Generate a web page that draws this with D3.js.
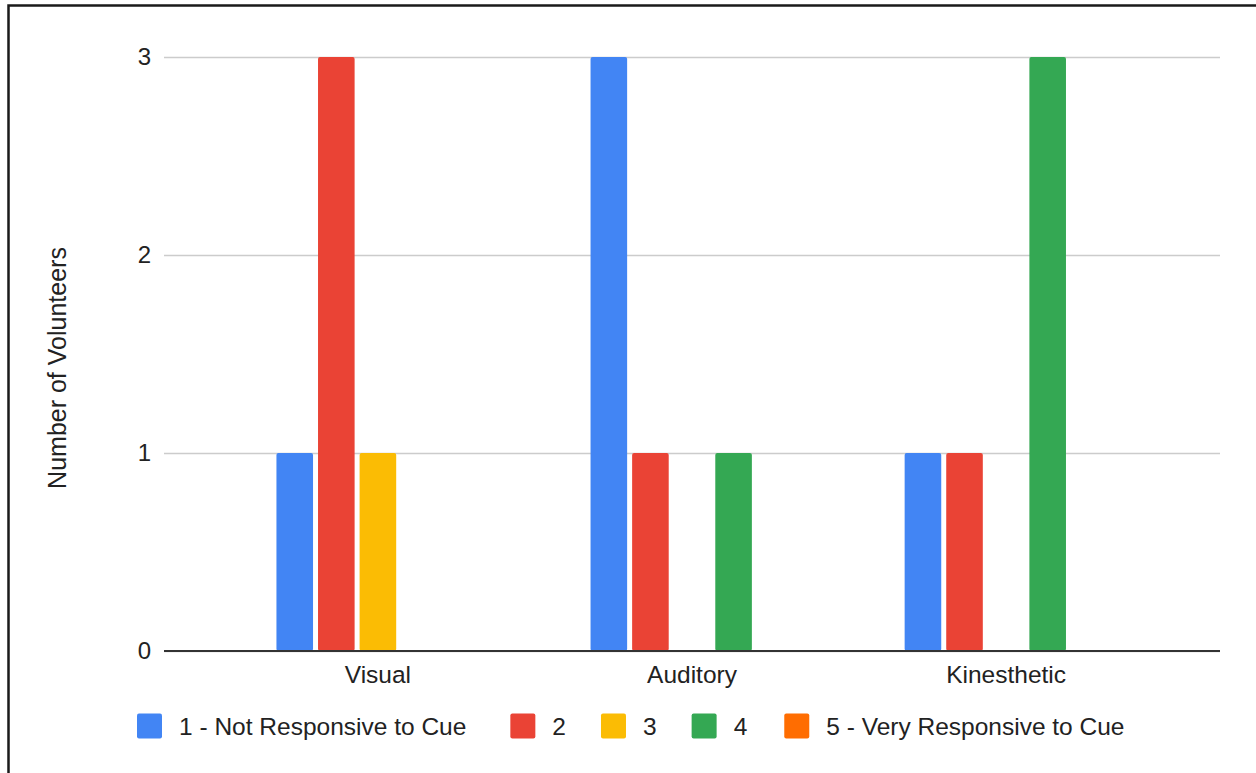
<!DOCTYPE html>
<html>
<head>
<meta charset="utf-8">
<script src="https://cdn.jsdelivr.net/npm/d3@7"></script>
<style>
  body { margin: 0; background: #fff; }
  svg { display: block; font-family: "Liberation Sans", Arial, Helvetica, sans-serif; }
</style>
</head>
<body>
<svg width="1256" height="773"></svg>
<script>
let categories = ["Visual", "Auditory", "Kinesthetic"];
let seriesNames = ["1 - Not Responsive to Cue", "2", "3", "4", "5 - Very Responsive to Cue"];
let seriesColors = ["#4285f4", "#ea4335", "#fbbc04", "#34a853", "#ff6d01"];
// one array per category, values for series 1..5
let visualValues = [1, 3, 1, 0, 0];
let auditoryValues = [3, 1, 0, 1, 0];
let kinestheticValues = [1, 1, 0, 3, 0];
let yTicks = [0, 1, 2, 3];
let yTitle = "Number of Volunteers";

let valuesByCategory = [visualValues, auditoryValues, kinestheticValues];

function render() {
  let svg = d3.select("svg");
  let fontSize = 24.5;

  let plot = { left: 164, right: 1220, top: 57, bottom: 651 };

  // outer frame, only left and top edges fall inside the picture
  svg.append("rect")
    .attr("x", 8.5)
    .attr("y", 5.5)
    .attr("width", 1300)
    .attr("height", 800)
    .attr("fill", "none")
    .attr("stroke", "#1a1a1a")
    .attr("stroke-width", 2.5);

  let x0 = d3.scaleBand()
    .domain(categories)
    .range([plot.left, plot.right])
    .paddingInner(0.354)
    .paddingOuter(0.358);
  let x1 = d3.scaleBand()
    .domain(seriesNames)
    .range([0, x0.bandwidth()])
    .paddingInner(0.12);
  let y = d3.scaleLinear()
    .domain([0, 3])
    .range([plot.bottom, plot.top]);

  let yAxis = d3.axisLeft(y)
    .tickValues(yTicks)
    .tickSize(-(plot.right - plot.left))
    .tickFormat(d3.format("d"));

  let gY = svg.append("g")
    .attr("class", "y-axis")
    .attr("transform", `translate(${plot.left}, 0)`)
    .call(yAxis);
  gY.select(".domain").remove();
  gY.selectAll(".tick line").attr("stroke", "#cccccc").attr("stroke-width", 1.5);
  gY.selectAll(".tick text")
    .attr("x", -13)
    .attr("font-size", 24)
    .attr("font-family", "inherit")
    .attr("fill", "#222");

  let gBars = svg.append("g").attr("class", "bars");
  categories.forEach((cat, ci) => {
    let g = gBars.append("g").attr("transform", `translate(${x0(cat)}, 0)`);
    g.selectAll("rect")
      .data(valuesByCategory[ci].map((v, si) => ({ v, si })).filter(d => d.v > 0))
      .enter()
      .append("rect")
      .attr("x", d => x1(seriesNames[d.si]))
      .attr("y", d => y(d.v))
      .attr("width", x1.bandwidth())
      .attr("height", d => y(0) - y(d.v))
      .attr("rx", 2)
      .attr("fill", d => seriesColors[d.si]);
  });

  // baseline
  svg.append("line")
    .attr("x1", plot.left)
    .attr("x2", plot.right)
    .attr("y1", y(0))
    .attr("y2", y(0))
    .attr("stroke", "#333")
    .attr("stroke-width", 2);

  let xAxis = d3.axisBottom(x0).tickSize(0).tickPadding(0);
  let gX = svg.append("g")
    .attr("class", "x-axis")
    .attr("transform", `translate(0, ${y(0)})`)
    .call(xAxis);
  gX.select(".domain").remove();
  gX.selectAll(".tick text")
    .attr("y", 32)
    .attr("dy", 0)
    .attr("font-size", fontSize)
    .attr("font-family", "inherit")
    .attr("fill", "#222");

  svg.append("text")
    .attr("transform", `translate(66, ${(plot.top + plot.bottom) / 2 + 14}) rotate(-90)`)
    .attr("text-anchor", "middle")
    .attr("font-size", 25)
    .attr("fill", "#222")
    .text(yTitle);

  // legend, laid out left to right
  let legend = svg.append("g").attr("class", "legend");
  let box = 25, boxGap = 17;
  let itemGaps = [44, 35, 35, 37];
  let xPos = 137;
  seriesNames.forEach((name, i) => {
    let g = legend.append("g").attr("transform", `translate(${xPos}, 726)`);
    g.append("rect")
      .attr("width", box)
      .attr("height", box)
      .attr("y", -box / 2)
      .attr("rx", 2)
      .attr("fill", seriesColors[i]);
    let t = g.append("text")
      .attr("x", box + boxGap)
      .attr("dy", "0.36em")
      .attr("font-size", fontSize)
      .attr("fill", "#222")
      .text(name);
    xPos += box + boxGap + t.node().getComputedTextLength() + (itemGaps[i] || 0);
  });
}

render();
</script>
</body>
</html>
